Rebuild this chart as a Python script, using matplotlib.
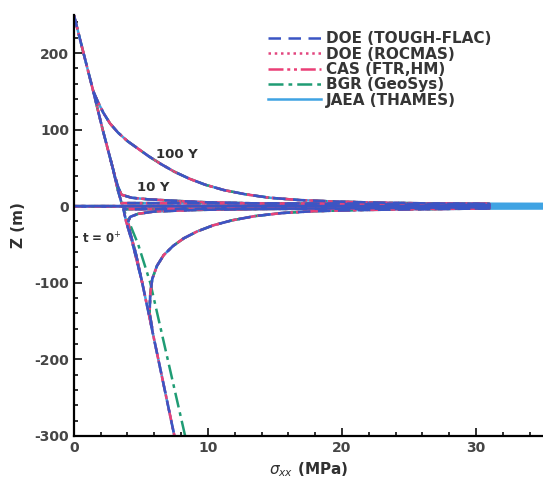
import numpy as np
import matplotlib.pyplot as plt
from matplotlib.ticker import MultipleLocator

plt.rcParams["axes.unicode_minus"] = False

models = ["DOE (TOUGH-FLAC)", "DOE (ROCMAS)", "CAS (FTR,HM)", "BGR (GeoSys)", "JAEA (THAMES)"]
colors = ["#3b55c4", "#e2457e", "#ea3f76", "#1f9c74", "#3fa3e3"]
styles = [(0, (5, 3)), (0, (1, 1.5)), (0, (6, 1.5, 1.2, 1.5, 1.2, 1.5)), (0, (6, 2, 1.5, 2)), "-"]

# t = 0+ profile; the run at z = 0 back to x = 0 draws the repository line
z_t0 = [250, 200, 150, 100, 50, 20, 8, 4, 3, 0, 0, 0, -3, -4, -8, -20, -50, -100, -150, -200, -250, -300]
s_t0 = [0, 0.72, 1.45, 2.15, 2.9, 3.3, 3.5, 3.55, 31, 31, 0, 31, 31, 3.7, 3.75, 3.9, 4.4, 5.1, 5.7, 6.3, 6.9, 7.5]
s_t0_bgr = [0, 0.72, 1.45, 2.15, 2.9, 3.3, 3.5, 3.55, 31, 31, 0, 31, 31, 3.7, 3.8, 4.1, 4.8, 5.7, 6.35, 7.0, 7.65, 8.3]
s_t0_jaea = [0, 0.72, 1.45, 2.15, 2.9, 3.3, 3.5, 3.55, 37, 37, 0, 37, 37, 3.7, 3.75, 3.9, 4.4, 5.1, 5.7, 6.3, 6.9, 7.5]

# 10 years
z_10 = [60, 40, 25, 15, 11, 9, 7, 5, 3.5, 1.5, -1.5, -3.5, -5, -7, -10, -14, -20, -35, -60, -100]
s_10 = [2.75, 3.05, 3.3, 3.55, 4.3, 5.5, 7.5, 10, 14, 31, 31, 14, 9, 6, 4.8, 4.2, 4.05, 4.2, 4.6, 5.1]

# 100 years
z_100 = [150, 136, 122, 108, 96, 85, 75, 65, 55, 45, 36, 28, 21, 15.5, 11, 8, 6, 4.5, 3.5, 3,
         -3, -4, -5, -6.5, -9, -13, -18.5, -25, -33, -42, -52, -64, -78, -95, -115, -140, -160]
s_100 = [1.45, 1.8, 2.2, 2.7, 3.3, 4.0, 4.8, 5.6, 6.5, 7.5, 8.6, 9.8, 11.2, 12.8, 14.6, 16.8, 19.5, 23, 27, 31,
         31, 26, 21.5, 18, 15.5, 13.5, 11.8, 10.4, 9.2, 8.2, 7.4, 6.7, 6.2, 5.85, 5.7, 5.65, 5.85]

t0_values = [s_t0, s_t0, s_t0, s_t0_bgr, s_t0_jaea]

fig = plt.figure(figsize=(5.43, 4.93), dpi=100)
ax = fig.add_axes([0.136, 0.116, 0.864, 0.854])

order = [4, 3, 2, 1, 0]  # draw solid first so the broken lines stay visible
lines = {}
for i in order:
    kw = dict(color=colors[i], linestyle=styles[i], lw=1.8)
    l, = ax.plot(t0_values[i], z_t0, label=models[i], **kw)
    ax.plot(s_10, z_10, **kw)
    ax.plot(s_100, z_100, **kw)
    lines[i] = l

ax.set_xlim(0, 35)
ax.set_ylim(-300, 250)
ax.set_xticks([0, 10, 20, 30])
ax.set_yticks([-300, -200, -100, 0, 100, 200])
ax.xaxis.set_minor_locator(MultipleLocator(2))
ax.yaxis.set_minor_locator(MultipleLocator(20))
ax.tick_params(which="both", direction="in", colors="#202020", labelcolor="#454545",
               labelsize=10, width=1.3)
ax.tick_params(which="major", length=6)
ax.tick_params(which="minor", length=3)
for lab in ax.get_xticklabels() + ax.get_yticklabels():
    lab.set_fontweight("bold")
ax.spines["top"].set_visible(False)
ax.spines["right"].set_visible(False)
ax.spines["left"].set_linewidth(1.6)
ax.spines["bottom"].set_linewidth(1.6)

ax.set_ylabel("Z (m)", fontsize=11, fontweight="bold", color="#303030", labelpad=6)
ax.set_xlabel(r"$\sigma_{xx}$ (MPa)", fontsize=11, fontweight="bold", color="#303030")

ax.text(7.7, 67, "100 Y", fontsize=9.5, fontweight="bold", color="#303030", ha="center", va="center")
ax.text(5.9, 25, "10 Y", fontsize=9.5, fontweight="bold", color="#303030", ha="center", va="center")
ax.text(2.1, -43, r"t = 0$^{+}$", fontsize=8.5, fontweight="bold", color="#303030", ha="center", va="center")

leg = ax.legend([lines[i] for i in range(5)], models, loc="upper left",
                bbox_to_anchor=(0.40, 0.975), frameon=False, handlelength=3.5,
                handletextpad=0.3, labelspacing=0.02, borderaxespad=0,
                prop={"weight": "bold", "size": 11})
for t in leg.get_texts():
    t.set_color("#353535")

fig.savefig("out.png", dpi=100)
